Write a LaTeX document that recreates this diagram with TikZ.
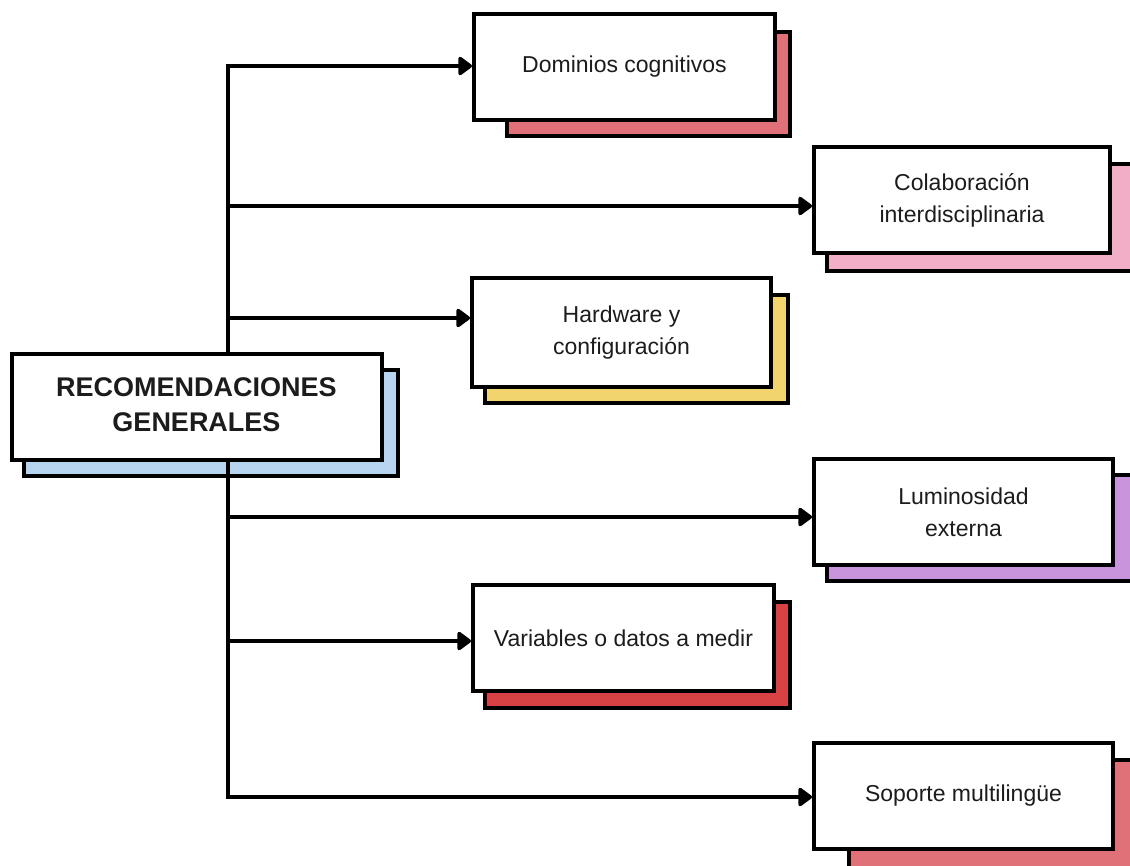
\documentclass[tikz,border=0pt]{standalone}
\usepackage{fontspec}
\setmainfont{Liberation Sans}
\usetikzlibrary{arrows.meta}
\definecolor{shblue}{HTML}{B7D5F0}
\definecolor{shsalmon}{HTML}{E07179}
\definecolor{shpink}{HTML}{F2AEC7}
\definecolor{shyellow}{HTML}{F2D46E}
\definecolor{shpurple}{HTML}{C994DC}
\definecolor{shred}{HTML}{D84244}
\definecolor{ink}{HTML}{1C1C1C}
\begin{document}
\begin{tikzpicture}[x=1pt,y=-1pt,
  card/.style={draw=black,line width=4pt,fill=white,rectangle,inner sep=0pt,
    minimum width=298pt,minimum height=106pt,align=center,text=ink,
    font=\fontsize{23}{32}\selectfont},
  maincard/.style={card,minimum width=370pt,font=\fontsize{27}{36}\selectfont\bfseries},
  backing/.style={draw=black,line width=4pt},
  link/.style={draw=black,line width=3.6pt,-{Triangle[length=15pt,width=21pt,round]}},
  trunk/.style={draw=black,line width=3.6pt}]
\useasboundingbox (0,0) rectangle (1130,865);
\clip (0,0) rectangle (1130,865);

% coloured backing cards
\draw[backing,fill=shblue]   (24,370) rectangle (398,476);
\draw[backing,fill=shsalmon] (507,32) rectangle (790,136);
\draw[backing,fill=shpink]   (827,164) rectangle (1150,271);
\draw[backing,fill=shyellow] (485,295) rectangle (788,403);
\draw[backing,fill=shpurple] (827,475) rectangle (1150,581);
\draw[backing,fill=shred]    (485,602) rectangle (790,708);
\draw[backing,fill=shsalmon] (849,760) rectangle (1150,890);

% branch points on the trunk
\coordinate (t1) at (228,66);
\coordinate (t2) at (228,206);
\coordinate (t3) at (228,318);
\coordinate (t4) at (228,517);
\coordinate (t5) at (228,641);
\coordinate (t6) at (228,797);

\draw[trunk,line cap=rect] (t1) -- (t6);

% cards
\node[maincard] (main) at (196.5,406.5) {\raisebox{5pt}{\begin{tabular}{@{}c@{}}RECOMENDACIONES\\[-1pt]GENERALES\end{tabular}}};
\node[card,minimum width=301pt] (dom) at (624.5,66.5) {Dominios cognitivos};
\node[card,minimum width=296pt] (col) at (962,200) {Colaboración\\interdisciplinaria};
\node[card,minimum width=299pt,minimum height=109pt] (hw) at (621.5,332.5) {Hardware y\\configuración};
\node[card,minimum width=299pt] (lum) at (963.5,512) {Luminosidad\\externa};
\node[card,minimum width=301pt] (var) at (623.5,638) {Variables o datos a medir};
\node[card,minimum width=299pt] (sop) at (963.5,796) {Soporte multilingüe};

% branches
\draw[link] (t1) -- (t1 -| dom.west);
\draw[link] (t2) -- (t2 -| col.west);
\draw[link] (t3) -- (t3 -| hw.west);
\draw[link] (t4) -- (t4 -| lum.west);
\draw[link] (t5) -- (t5 -| var.west);
\draw[link] (t6) -- (t6 -| sop.west);
\end{tikzpicture}
\end{document}
